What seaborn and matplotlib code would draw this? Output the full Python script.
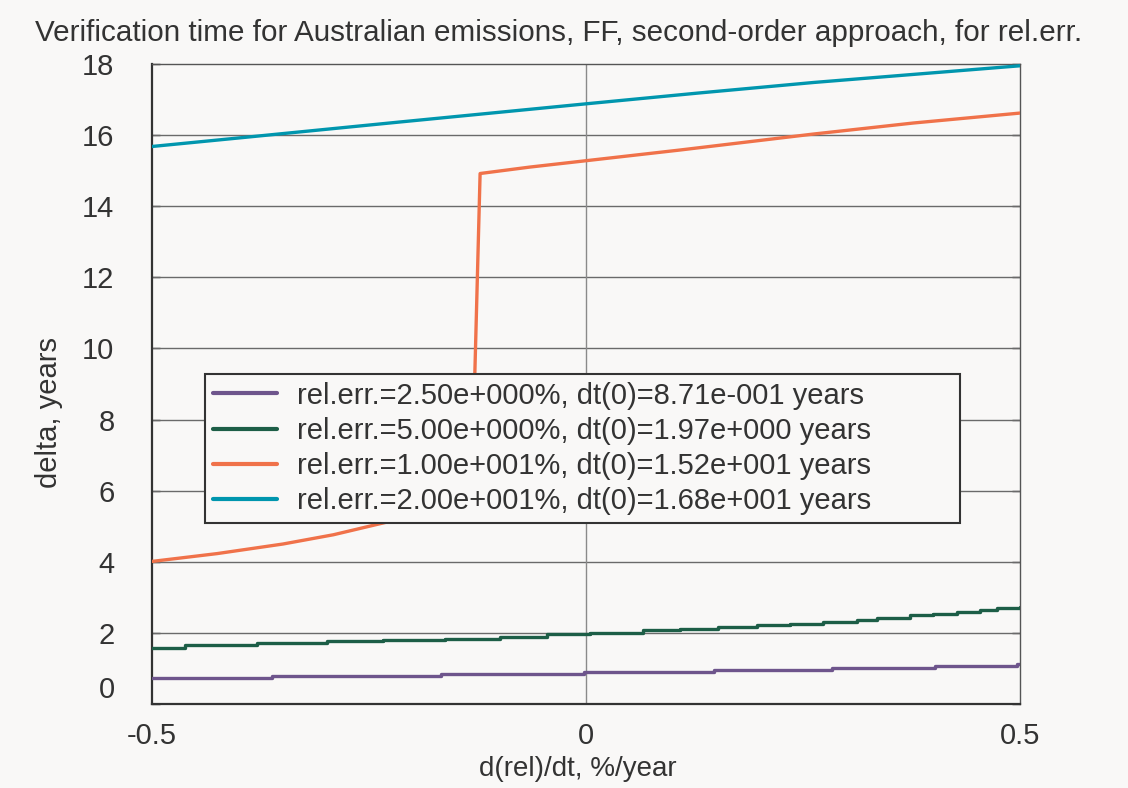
import matplotlib
matplotlib.use("Agg")
import matplotlib.pyplot as plt
import seaborn as sns
import pandas as pd

# Series data: x = d(rel)/dt (%/year), y = verification time (years)
labels = [
    "rel.err.=2.50e+000%, dt(0)=8.71e-001 years",
    "rel.err.=5.00e+000%, dt(0)=1.97e+000 years",
    "rel.err.=1.00e+001%, dt(0)=1.52e+001 years",
    "rel.err.=2.00e+001%, dt(0)=1.68e+001 years",
]

x_err25 = [-0.5, -0.362, -0.167, -0.002, 0.147, 0.283, 0.402, 0.497, 0.5]
y_err25 = [0.72, 0.79, 0.85, 0.91, 0.96, 1.00, 1.06, 1.13, 1.13]

x_err5 = [-0.5, -0.462, -0.379, -0.298, -0.234, -0.162, -0.099, -0.045, 0.005,
          0.066, 0.108, 0.152, 0.197, 0.235, 0.273, 0.312, 0.335, 0.373, 0.40,
          0.427, 0.454, 0.473, 0.5]
y_err5 = [1.57, 1.66, 1.72, 1.76, 1.79, 1.84, 1.89, 1.96, 2.01,
          2.07, 2.10, 2.17, 2.22, 2.26, 2.32, 2.37, 2.42, 2.50, 2.54,
          2.59, 2.65, 2.70, 2.74]

x_err10 = [-0.5, -0.425, -0.349, -0.291, -0.234, -0.18, -0.132, -0.122, -0.065,
           0.0, 0.108, 0.262, 0.377, 0.5]
y_err10 = [4.01, 4.23, 4.50, 4.76, 5.09, 5.40, 5.65, 14.92, 15.10,
           15.28, 15.58, 16.03, 16.34, 16.62]

x_err20 = [-0.5, -0.4, -0.214, 0.0, 0.128, 0.262, 0.5]
y_err20 = [15.68, 15.92, 16.37, 16.88, 17.18, 17.48, 17.95]

colors = ["#6e558c", "#1d5e47", "#f0724a", "#0096ae"]

y_ticks = [0, 2, 4, 6, 8, 10, 12, 14, 16, 18]
x_ticks = [-0.5, 0, 0.5]
x_ticklabels = ["-0.5", "0", "0.5"]

bg = "#f9f8f7"
ink = "#333333"
sns.set_theme(style="white")
plt.rcParams["font.family"] = ["Liberation Sans", "DejaVu Sans"]

fig = plt.figure(figsize=(11.28, 7.88), dpi=100, facecolor=bg)
ax = fig.add_axes([152 / 1128, 1 - 704 / 788, 868 / 1128, 640 / 788])
ax.set_facecolor(bg)

series = [
    (x_err25, y_err25, "steps-post"),
    (x_err5, y_err5, "steps-post"),
    (x_err10, y_err10, "default"),
    (x_err20, y_err20, "default"),
]
for (xs, ys, ds), lab, col in zip(series, labels, colors):
    df = pd.DataFrame({"x": xs, "y": ys})
    sns.lineplot(data=df, x="x", y="y", ax=ax, color=col, lw=2.4,
                 estimator=None, sort=False, drawstyle=ds, label=lab, zorder=3)

ax.set_xlim(-0.5, 0.5)
ax.set_ylim(0, 18)
ax.set_xticks(x_ticks)
ax.set_xticklabels(x_ticklabels)
ax.set_yticks(y_ticks)

# horizontal grid at the y ticks, single vertical line at zero
for yv in y_ticks[1:-1]:
    ax.axhline(yv, color="#6a6a6a", lw=1.0, zorder=1)
ax.axvline(0, color="#8a8a8a", lw=1.0, zorder=1)

for side in ["left", "bottom"]:
    ax.spines[side].set_color(ink)
    ax.spines[side].set_linewidth(1.6)
for side in ["top", "right"]:
    ax.spines[side].set_color("#555555")
    ax.spines[side].set_linewidth(1.0)

ax.tick_params(axis="y", which="both", direction="in", length=6, width=1,
               color=ink, left=True, right=True, labelsize=21,
               labelcolor=ink, pad=27)
ax.tick_params(axis="x", direction="in", length=0, labelsize=21,
               labelcolor=ink, pad=13)
# keep the zero label sitting inside the axis range
ax.get_yticklabels()[0].set_va("bottom")

ax.set_xlabel("d(rel)/dt, %/year", fontsize=20, color=ink, labelpad=4,
              x=(578 - 152) / 868)
ax.set_ylabel("delta, years", fontsize=21, color=ink, labelpad=14,
              y=(704 - 413) / 640)

fig.text(35 / 1128, 1 - 33 / 788,
         "Verification time for Australian emissions, FF, second-order approach, for rel.err.",
         fontsize=21.3, color=ink, ha="left", va="center")

leg = ax.legend(loc="lower left",
                bbox_to_anchor=(53 / 868, (704 - 523) / 640, (960 - 205) / 868, 0.2),
                mode="expand", borderaxespad=0, fontsize=21, frameon=True,
                fancybox=False, facecolor=bg, edgecolor=ink, framealpha=1,
                handlelength=2.2, handletextpad=0.7, labelspacing=0.245,
                borderpad=0.27)
leg.get_frame().set_linewidth(1.5)
for t in leg.get_texts():
    t.set_color(ink)
for h in leg.legend_handles:
    h.set_linewidth(3)

fig.savefig("out.png", dpi=100, facecolor=bg)
